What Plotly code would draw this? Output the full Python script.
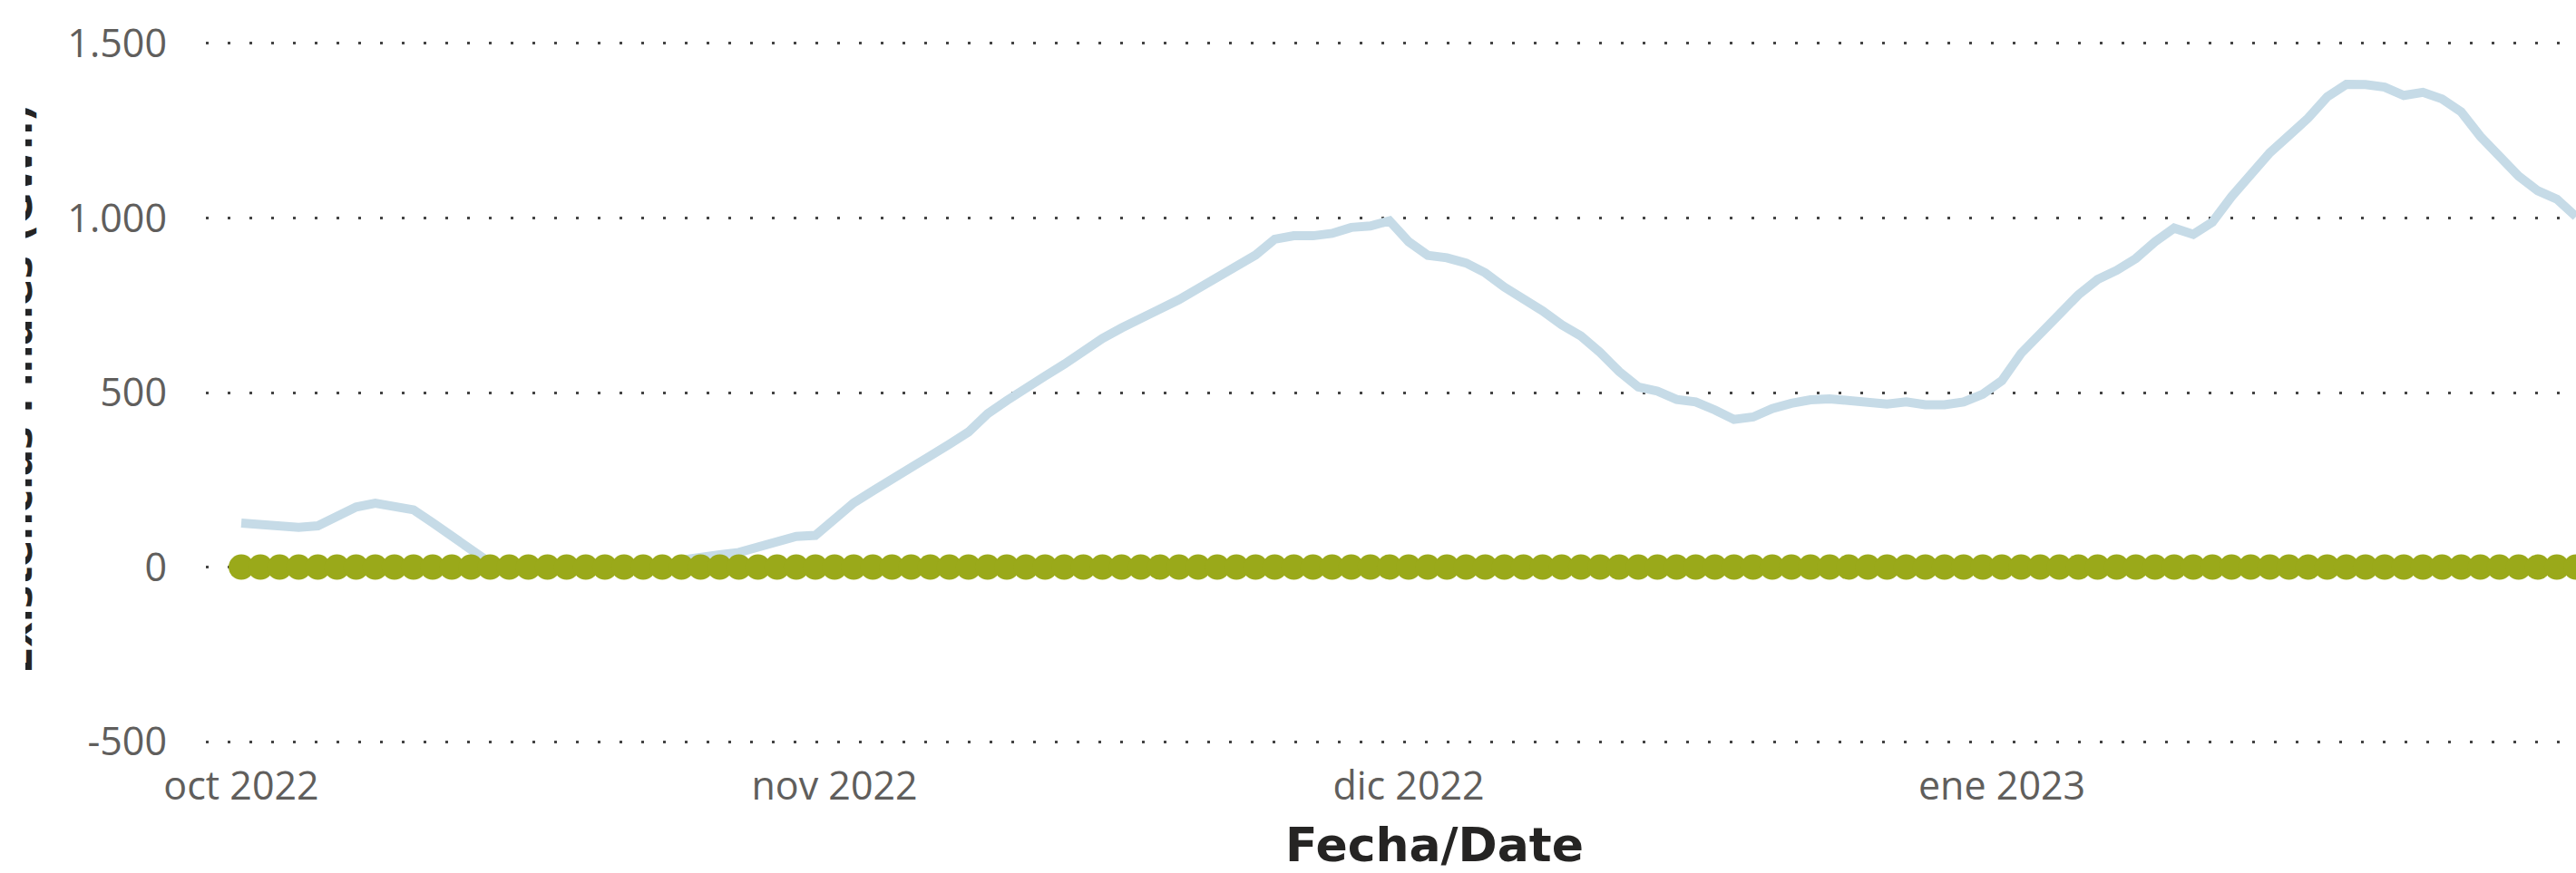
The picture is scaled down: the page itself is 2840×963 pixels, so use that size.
import pandas as pd
import plotly.graph_objects as go

# ---- data ----
dates = pd.date_range("2022-10-01", "2023-01-31", freq="D")

existencias = [
    126, 123, 116, 114, 118, 147, 172, 183, 175, 164,
    127, 86, 52, 12, 0, 0, 0, 0, 0, 0,
    0, 0, 0, 20, 30, 35, 42, 57, 73, 88,
    91, 140, 184, 218, 250, 288, 318, 352, 387, 439,
    477, 515, 547, 581, 620, 655, 685, 712, 734, 766,
    798, 832, 864, 894, 939, 949, 949, 956, 973, 977,
    992, 932, 893, 886, 871, 843, 802, 769, 734, 694,
    662, 615, 560, 516, 504, 480, 473, 450, 423, 430,
    454, 469, 479, 482, 476, 471, 467, 473, 465, 465,
    473, 495, 534, 612, 672, 724, 780, 824, 850, 884,
    932, 971, 953, 988, 1061, 1122, 1187, 1236, 1286, 1347,
    1383, 1382, 1375, 1351, 1360, 1341, 1304, 1234, 1178, 1120,
    1078, 1054, 1004,
]

otros = [
    0, 0, 0, 0, 0, 0, 0, 0, 0, 0,
    0, 0, 0, 0, 0, 0, 0, 0, 0, 0,
    0, 0, 0, 0, 0, 0, 0, 0, 0, 0,
    0, 0, 0, 0, 0, 0, 0, 0, 0, 0,
    0, 0, 0, 0, 0, 0, 0, 0, 0, 0,
    0, 0, 0, 0, 0, 0, 0, 0, 0, 0,
    0, 0, 0, 0, 0, 0, 0, 0, 0, 0,
    0, 0, 0, 0, 0, 0, 0, 0, 0, 0,
    0, 0, 0, 0, 0, 0, 0, 0, 0, 0,
    0, 0, 0, 0, 0, 0, 0, 0, 0, 0,
    0, 0, 0, 0, 0, 0, 0, 0, 0, 0,
    0, 0, 0, 0, 0, 0, 0, 0, 0, 0,
    0, 0, 0,
]

x_tick_vals = ["2022-10-01", "2022-11-01", "2022-12-01", "2023-01-01"]
x_tick_text = ["oct 2022", "nov 2022", "dic 2022", "ene 2023"]
y_tick_vals = [-500, 0, 500, 1000, 1500]
y_tick_text = ["-500", "0", "500", "1.000", "1.500"]

x_title = "Fecha/Date"
y_title = "Existencias Finales (GWh)"

# ---- figure ----
W, H = 2840, 963
ML, MR, MT, MB = 227, 0, 46, 143
PW = W - ML - MR
PH = H - MT - MB

fig = go.Figure()
fig.add_trace(go.Scatter(
    x=dates, y=existencias, mode="lines",
    line=dict(color="#C6DBE7", width=10),
    showlegend=False, hoverinfo="skip",
))
fig.add_trace(go.Scatter(
    x=dates, y=otros, mode="markers",
    marker=dict(color="#9AA91A", size=28, line=dict(width=0)),
    showlegend=False, hoverinfo="skip",
))

tick_font = dict(family="Open Sans, sans-serif", size=43, color="#605E5C")
xtitle_font = dict(family="DejaVu Sans, sans-serif", size=52, color="#252423", weight="bold")
ytitle_font = dict(family="DejaVu Sans, sans-serif", size=43, color="#252423", weight="bold")

fig.update_layout(
    width=W, height=H,
    margin=dict(l=ML, r=MR, t=MT, b=MB, pad=0),
    paper_bgcolor="white", plot_bgcolor="white",
    xaxis=dict(
        range=["2022-09-29 03:36", "2023-01-31 00:00"],
        tickvals=x_tick_vals, ticktext=x_tick_text,
        tickfont=tick_font, showgrid=False, zeroline=False,
        showline=False, ticks="", ticklabelstandoff=18,
    ),
    yaxis=dict(
        range=[-505, 1505],
        tickvals=y_tick_vals, ticktext=y_tick_text,
        tickfont=tick_font, showgrid=True, gridcolor="#444444",
        gridwidth=3, griddash="3px,21px", zeroline=False,
        showline=False, ticks="", ticklabelstandoff=42,
    ),
    annotations=[
        dict(text=x_title, xref="paper", yref="paper", x=(1581 - ML) / PW, y=0,
             yshift=-(932 - (H - MB)), xanchor="center", yanchor="middle",
             showarrow=False, font=xtitle_font),
        dict(text=y_title, xref="paper", yref="paper", x=(47 - ML) / PW,
             y=(H - MB - 429) / PH,
             xanchor="right", yanchor="middle", textangle=-90,
             showarrow=False, font=ytitle_font),
        dict(text=" ", xref="paper", yref="paper", x=(0 - ML) / PW, y=0.5,
             xanchor="left", yanchor="middle", width=28, height=960,
             bgcolor="white", borderwidth=0, borderpad=0, showarrow=False),
    ],
)

fig.write_html("out.html", config={"displayModeBar": False},
               post_script="document.body.style.margin='0px';")
